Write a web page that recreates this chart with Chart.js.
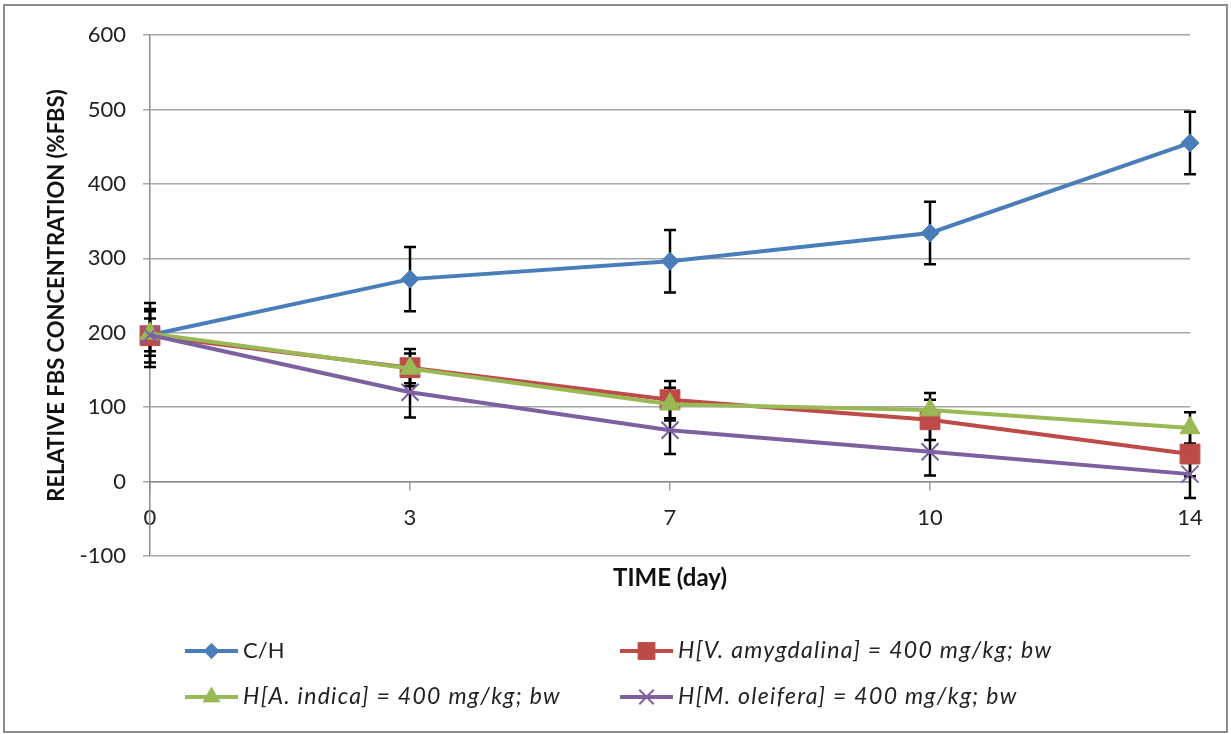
<!DOCTYPE html>
<html><head><meta charset="utf-8">
<script src="https://cdn.jsdelivr.net/npm/chart.js@4.4.1/dist/chart.umd.min.js"></script>
<style>html,body{margin:0;padding:0;background:#fff;}#wrap{width:1231px;height:734px;}</style>
</head><body><div id="wrap"><canvas id="c" width="1231" height="734"></canvas></div>
<script>
// ---- data ----
const days = ['0', '3', '7', '10', '14'];
const seriesNames = ['C/H', 'H[V. amygdalina] = 400 mg/kg; bw', 'H[A. indica] = 400 mg/kg; bw', 'H[M. oleifera] = 400 mg/kg; bw'];
const chValues = [197, 272, 296, 334, 455];
const chErrors = [43, 43, 42, 42, 42];
const vaValues = [196, 153, 110, 83, 37];
const vaErrors = [36, 25, 25, 27, 30];
const aiValues = [199, 152, 104, 96, 72];
const aiErrors = [30, 20, 22, 23, 21];
const moValues = [197, 120, 69, 40, 10];
const moErrors = [22, 34, 32, 32, 32];
const yMin = -100, yMax = 600, yStep = 100;

const FONT = "Lato, 'Open Sans', sans-serif";
const colors = ['#4A7EBB', '#BE4B48', '#98B954', '#7D60A0'];
const styles = ['rectRot', 'rect', 'triangle', 'crossRot'];
const radii = [9, 14, 11.5, 12];
const values = [chValues, vaValues, aiValues, moValues];
const errors = [chErrors, vaErrors, aiErrors, moErrors];

const datasets = values.map((v, i) => ({
  label: seriesNames[i],
  data: v,
  errors: errors[i],
  borderColor: colors[i],
  backgroundColor: colors[i],
  borderWidth: 4,
  pointStyle: styles[i],
  pointRadius: radii[i],
  pointBorderWidth: i === 3 ? 2 : 1,
  pointBackgroundColor: colors[i],
  pointBorderColor: colors[i],
  tension: 0,
  clip: false,
  order: 4 - i
}));

const frame = {
  id: 'frame',
  beforeDraw(chart) {
    const ctx = chart.ctx;
    ctx.save();
    ctx.fillStyle = '#fff';
    ctx.fillRect(0, 0, chart.width, chart.height);
    ctx.strokeStyle = '#8c8c8c';
    ctx.lineWidth = 2;
    ctx.strokeRect(4, 5, 1223, 727);
    ctx.restore();
  }
};

const errorBars = {
  id: 'errorBars',
  beforeDatasetsDraw(chart) {
    const {ctx, scales: {x, y}} = chart;
    ctx.save();
    ctx.strokeStyle = '#000';
    ctx.lineWidth = 2.5;
    chart.data.datasets.forEach(ds => {
      ds.errors.forEach((e, j) => {
        const px = x.getPixelForValue(j);
        const v = ds.data[j];
        const t = y.getPixelForValue(v + e), b = y.getPixelForValue(v - e);
        ctx.beginPath();
        ctx.moveTo(px, t); ctx.lineTo(px, b);
        ctx.moveTo(px - 6, t); ctx.lineTo(px + 6, t);
        ctx.moveTo(px - 6, b); ctx.lineTo(px + 6, b);
        ctx.stroke();
      });
    });
    ctx.restore();
  }
};

const legendPlugin = {
  id: 'customLegend',
  afterDraw(chart) {
    const ctx = chart.ctx;
    const pos = [[185, 651], [620, 651], [185, 697], [620, 697]];
    ctx.save();
    chart.data.datasets.forEach((ds, i) => {
      const [lx, ly] = pos[i];
      ctx.strokeStyle = colors[i];
      ctx.fillStyle = colors[i];
      ctx.lineWidth = 4;
      ctx.beginPath();
      ctx.moveTo(lx, ly); ctx.lineTo(lx + 53, ly);
      ctx.stroke();
      ctx.lineWidth = i === 3 ? 2 : 1;
      Chart.helpers.drawPoint(ctx, {
        pointStyle: styles[i], radius: radii[i] * 0.85, rotation: 0,
        borderWidth: i === 3 ? 2 : 1
      }, lx + 26.5, ly);
      ctx.fillStyle = '#222';
      ctx.font = (i === 0 ? '22px ' : 'italic 23px ') + FONT;
      ctx.letterSpacing = i === 0 ? '0px' : '1.3px';
      ctx.textBaseline = 'middle';
      ctx.textAlign = 'left';
      ctx.fillText(ds.label, lx + 58, ly);
    });
    ctx.restore();
  }
};

new Chart(document.getElementById('c'), {
  type: 'line',
  data: { labels: days, datasets },
  plugins: [frame, errorBars, legendPlugin],
  options: {
    responsive: false,
    animation: false,
    devicePixelRatio: 1,
    layout: { padding: { left: 0, top: 35, right: 41, bottom: 178 } },
    plugins: { legend: { display: false }, tooltip: { enabled: false } },
    scales: {
      x: {
        type: 'category',
        position: { y: 0 },
        offset: false,
        grid: { display: true, drawOnChartArea: false, drawTicks: true, tickLength: 8, color: '#a0a0a0', lineWidth: 1.5 },
        border: { display: true, color: '#8c8c8c', width: 1.5 },
        ticks: { color: '#222', font: { family: FONT, size: 22 }, padding: 15, maxRotation: 0, autoSkip: false },
        title: { display: true, text: 'TIME (day)', color: '#111', font: { family: FONT, size: 24, weight: 'bold' }, padding: { top: 0, bottom: 11 } },
        afterFit(s) { s.height = 122; }
      },
      y: {
        type: 'linear',
        min: yMin, max: yMax,
        ticks: { stepSize: yStep, color: '#222', font: { family: FONT, size: 22 }, padding: 17 },
        grid: { color: '#a6a6a6', lineWidth: 1.5, tickLength: 7, drawTicks: true },
        border: { display: true, color: '#8c8c8c', width: 1.5 },
        title: { display: true, text: 'RELATIVE FBS CONCENTRATION (%FBS)', color: '#111', font: { family: FONT, size: 22, weight: 'bold' }, padding: { top: 44, bottom: 0 } },
        afterFit(s) { s.width = 150; }
      }
    }
  }
});
</script>
</body></html>
